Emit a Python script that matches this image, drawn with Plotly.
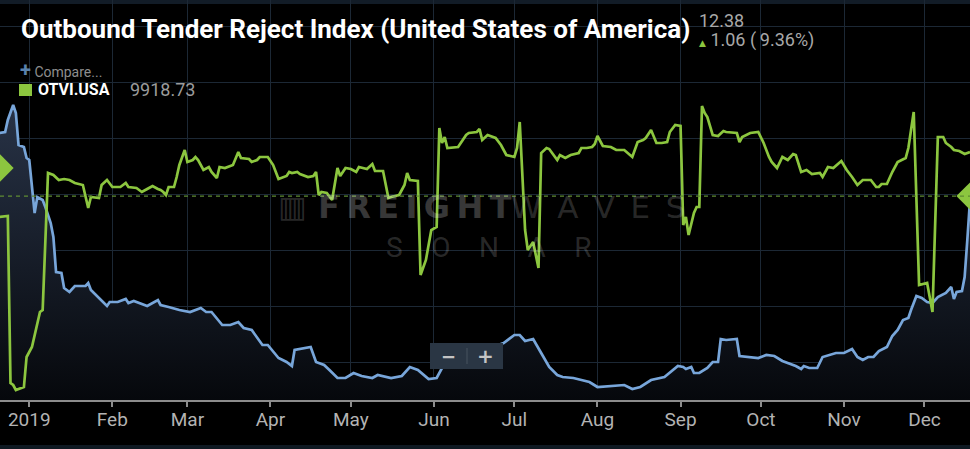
import pandas as pd
import plotly.graph_objects as go

# ---------------- data ----------------
BASE_DATE = "2019-01-01"

# Outbound Tender Reject Index (blue) : day offset from 2019-01-01, value (%)
otri_day = [-11, -9, -8, -6, -5, -4, -2, -1, 0, 1, 2, 3, 5, 6, 8, 9, 10, 12, 13, 15, 17, 21, 22, 23,
            26, 29, 30, 33, 36, 37, 39, 41, 44, 48, 49, 52, 56, 60, 64, 66, 68, 72, 75, 78, 80, 83,
            87, 89, 93, 96, 98, 99, 105, 107, 110, 112, 115, 118, 121, 124, 128, 130, 133, 135, 139,
            142, 145, 149, 152, 154, 161, 168, 174, 177, 181, 183, 185, 188, 191, 194, 197, 199, 203,
            206, 209, 212, 216, 219, 222, 225, 228, 232, 237, 242, 244, 245, 247, 248, 250, 253, 255,
            257, 258, 260, 264, 265, 269, 272, 275, 278, 281, 286, 288, 289, 291, 294, 296, 299, 301,
            304, 307, 309, 311, 313, 315, 317, 320, 322, 324, 326, 328, 329, 331, 333, 335, 337, 339,
            342, 344, 345, 346, 348, 349, 350, 351]
otri_val = [15.06, 15.10, 15.58, 16.18, 15.86, 14.58, 14.50, 14.06, 13.98, 12.78, 11.86, 12.50, 12.38,
            12.10, 11.46, 10.90, 9.50, 9.46, 8.86, 8.70, 8.94, 8.94, 9.06, 8.78, 8.46, 8.14, 8.30, 8.30,
            8.42, 8.26, 8.34, 8.26, 8.14, 8.38, 8.18, 8.10, 7.98, 7.90, 8.06, 7.90, 7.90, 7.38, 7.38,
            7.50, 7.26, 7.18, 6.58, 6.58, 6.06, 5.90, 5.74, 6.38, 6.50, 5.90, 5.78, 5.58, 5.26, 5.26,
            5.46, 5.34, 5.26, 5.38, 5.30, 5.26, 5.34, 5.70, 5.58, 5.22, 5.26, 5.66, 5.98, 6.30, 6.54,
            6.66, 6.98, 6.98, 6.74, 6.82, 6.26, 5.70, 5.38, 5.30, 5.26, 5.18, 5.10, 4.90, 4.94, 4.94,
            4.98, 4.82, 4.90, 5.18, 5.30, 5.74, 5.70, 5.62, 5.70, 5.46, 5.46, 5.66, 5.90, 5.90, 6.82,
            6.78, 6.82, 6.14, 6.10, 6.06, 6.18, 6.14, 5.94, 5.74, 5.62, 5.74, 5.66, 5.66, 6.10, 6.18,
            6.26, 6.26, 6.42, 6.10, 5.98, 6.10, 6.10, 6.34, 6.50, 6.94, 7.18, 7.58, 7.66, 7.98, 8.54,
            8.46, 8.30, 8.26, 8.50, 8.66, 8.90, 8.42, 8.70, 8.74, 9.30, 10.78, 12.38]

# Outbound Tender Volume Index (green) : day offset from 2019-01-01, value
otvi_day = [-11, -8, -7, -6, -5, -2, -1, 1, 4, 5, 7, 9, 11, 13, 15, 17, 20, 21, 22, 23, 26, 27, 29, 31,
            34, 36, 37, 40, 42, 44, 46, 48, 49, 50, 51, 52, 54, 55, 56, 58, 59, 61, 62, 63, 65, 67, 68,
            70, 71, 73, 76, 78, 79, 82, 83, 85, 86, 89, 91, 93, 96, 97, 98, 100, 101, 104, 106, 107,
            108, 109, 111, 113, 115, 116, 118, 120, 122, 123, 126, 128, 129, 132, 134, 135, 138, 140,
            141, 142, 145, 146, 148, 150, 152, 153, 154, 155, 156, 160, 163, 164, 167, 168, 169, 171,
            174, 176, 178, 181, 182, 183, 185, 186, 188, 190, 191, 193, 194, 197, 198, 200, 202, 205,
            206, 208, 210, 211, 212, 214, 217, 219, 222, 225, 227, 229, 230, 232, 234, 236, 238, 239,
            241, 243, 244, 245, 246, 248, 249, 250, 251, 252, 253, 255, 257, 259, 260, 264, 265, 266,
            269, 272, 274, 276, 277, 279, 281, 283, 285, 286, 288, 290, 292, 295, 296, 298, 300, 303,
            305, 307, 309, 311, 314, 316, 317, 318, 320, 322, 324, 327, 328, 330, 332, 335, 337, 339,
            341, 342, 344, 345, 347, 349, 351]
otvi_val = [9709, 9719, 8049, 8029, 7979, 8009, 8309, 8409, 8759, 8779, 10149, 10129, 10079, 10089,
            10079, 10049, 10029, 9899, 9799, 9909, 9899, 10029, 10079, 10009, 10009, 10049, 10009, 9999,
            9959, 9989, 10019, 9989, 9979, 9959, 9929, 10009, 10009, 10109, 10229, 10379, 10259, 10279,
            10309, 10279, 10179, 10209, 10159, 10099, 10209, 10199, 10229, 10359, 10299, 10289, 10259,
            10279, 10309, 10309, 10229, 10089, 10119, 10159, 10149, 10159, 10139, 10109, 10119, 10159,
            9929, 9959, 9949, 9879, 10199, 10119, 10199, 10189, 10159, 10209, 10189, 10239, 10169,
            10169, 9899, 9909, 9929, 10029, 10149, 10079, 10069, 9129, 9279, 9579, 9609, 10599, 10449,
            10509, 10399, 10409, 10529, 10549, 10559, 10589, 10479, 10529, 10499, 10429, 10329, 10309,
            10399, 10659, 9579, 9379, 9459, 9199, 10349, 10399, 10389, 10279, 10329, 10299, 10329,
            10349, 10399, 10399, 10409, 10439, 10519, 10419, 10409, 10379, 10379, 10309, 10459, 10479,
            10499, 10579, 10449, 10449, 10459, 10559, 10629, 10619, 9629, 9709, 9529, 9749, 9809, 9809,
            10819, 10749, 10709, 10529, 10519, 10569, 10559, 10549, 10459, 10509, 10549, 10559, 10449,
            10309, 10259, 10199, 10309, 10279, 10339, 10329, 10159, 10179, 10139, 10149, 10109, 10209,
            10199, 10269, 10179, 10109, 10029, 10079, 10079, 10009, 10009, 10039, 10039, 10159, 10259,
            10299, 10399, 10759, 9029, 9049, 8759, 10509, 10509, 10449, 10409, 10379, 10369, 10339,
            10359]

OTVI_CURRENT = 9918.73          # legend value, also the dashed reference level
OTVI_LEFT_MARK = 10199          # green diamond on the left edge
OTRI_LAST = 12.38
OTRI_CHANGE = 1.06
OTRI_CHANGE_PCT = 9.36

month_ticks = ["2019-01-01", "2019-02-01", "2019-03-01", "2019-04-01", "2019-05-01", "2019-06-01",
               "2019-07-01", "2019-08-01", "2019-09-01", "2019-10-01", "2019-11-01", "2019-12-01"]
month_labels = ["2019", "Feb", "Mar", "Apr", "May", "Jun", "Jul", "Aug", "Sep", "Oct", "Nov", "Dec"]

X_RANGE = ["2018-12-21 02:00", "2019-12-18 00:00"]
OTRI_RANGE = [4.38, 20.38]
OTVI_RANGE = [7879, 11879]

# ---------------- styling ----------------
BLUE = "#78a6da"
GREEN = "#8cc63f"
GRID = "#1c2835"
BG = "#000000"

base = pd.Timestamp(BASE_DATE)
otri_x = base + pd.to_timedelta(otri_day, unit="D")
otvi_x = base + pd.to_timedelta(otvi_day, unit="D")

fig = go.Figure()

fig.add_trace(go.Scatter(
    x=otri_x, y=otri_val, mode="lines", name="OTRI.USA",
    line=dict(color=BLUE, width=2.7),
    fill="tozeroy",
    fillgradient=dict(type="vertical", start=OTRI_RANGE[0], stop=16.2,
                      colorscale=[[0, "#06080c"], [1, "#283347"]]),
    yaxis="y", hoverinfo="skip",
))

fig.add_trace(go.Scatter(
    x=otvi_x, y=otvi_val, mode="lines", name="OTVI.USA",
    line=dict(color=GREEN, width=2.7), yaxis="y2", hoverinfo="skip",
))

fig.add_trace(go.Scatter(
    x=[X_RANGE[0], X_RANGE[1]], y=[OTVI_LEFT_MARK, OTVI_CURRENT], mode="markers",
    marker=dict(symbol="diamond", size=21, color=GREEN, line=dict(width=0)),
    yaxis="y2", cliponaxis=False, hoverinfo="skip",
))

PLOT_H = 400.0  # plot-area height in px (for paper coordinates)
W = 970.0


def py(p):
    return 1 - p / PLOT_H


def px(p):
    return p / W


annotations = [
    dict(text="<b>Outbound Tender Reject Index (United States of America)</b>",
         x=px(19), y=py(29), xanchor="left", yanchor="middle",
         font=dict(family="Roboto", size=26, color="#ffffff")),
    dict(text=f"{OTRI_LAST:.2f}", x=px(697), y=py(21), xanchor="left", yanchor="middle",
         font=dict(family="Roboto", size=18, color="#a8a8a8")),
    dict(text=f"<span style='color:{GREEN};font-family:DejaVu Sans;font-size:9px'>▲</span> {OTRI_CHANGE:.2f} (\u2009{OTRI_CHANGE_PCT:.2f}%)",
         x=px(697), y=py(40), xanchor="left", yanchor="middle",
         font=dict(family="Roboto", size=18, color="#a8a8a8")),
    dict(text="<span style='color:#5a82ad;font-size:20px'><b>+</b></span> Compare...", x=px(18), y=py(70),
         xanchor="left", yanchor="middle", font=dict(family="Roboto", size=14, color="#8e8e8e")),
    dict(text="<b>OTVI.USA</b>", x=px(36), y=py(90), xanchor="left", yanchor="middle",
         font=dict(family="Roboto", size=16, color="#ffffff")),
    dict(text=f"{OTVI_CURRENT:.2f}", x=px(128), y=py(90), xanchor="left", yanchor="middle",
         font=dict(family="Roboto", size=18, color="#9c9c9c")),
    # watermark
    dict(text="▥", x=px(292), y=py(207), xanchor="center", yanchor="middle",
         font=dict(family="DejaVu Sans", size=30, color="rgba(255,255,255,0.18)")),
    dict(text="<b>F\u2009R\u2009E\u2009I\u2009G\u2009H\u2009T</b>",
         x=px(316), y=py(207), xanchor="left", yanchor="middle",
         font=dict(family="DejaVu Sans", size=32, color="rgba(255,255,255,0.22)")),
    dict(text="W\u2002A\u2002V\u2002E\u2002S",
         x=px(687), y=py(207), xanchor="right", yanchor="middle",
         font=dict(family="DejaVu Sans", size=31, color="rgba(255,255,255,0.17)")),
    dict(text="S\u2003O\u2003N\u2003A\u2003R", x=px(489), y=py(247), xanchor="center", yanchor="middle",
         font=dict(family="Roboto", size=28, color="rgba(255,255,255,0.17)")),
    # zoom buttons
    dict(text="<b>−</b>", x=px(448), y=py(356), xanchor="center", yanchor="middle",
         font=dict(family="DejaVu Sans", size=18, color="#c4c4c4")),
    dict(text="<b>+</b>", x=px(485), y=py(356), xanchor="center", yanchor="middle",
         font=dict(family="DejaVu Sans", size=20, color="#c4c4c4")),
]
for a in annotations:
    a.update(xref="paper", yref="paper", showarrow=False)

shapes = [
    dict(type="rect", xref="paper", yref="paper", x0=0, x1=1, y0=py(4), y1=py(0),
         fillcolor="#121c27", line=dict(width=0), layer="below"),
    dict(type="rect", xref="paper", yref="paper", x0=0, x1=1, y0=py(449), y1=py(445),
         fillcolor="#0f1922", line=dict(width=0)),
    dict(type="line", xref="paper", yref="y2", x0=0, x1=1, y0=OTVI_CURRENT, y1=OTVI_CURRENT,
         line=dict(color="#5f8c33", width=1.2, dash="4px,4px"), layer="above"),
    dict(type="rect", xref="paper", yref="paper", x0=px(19), x1=px(32), y0=py(96), y1=py(84),
         fillcolor=GREEN, line=dict(width=0)),
    dict(type="rect", xref="paper", yref="paper", x0=px(430), x1=px(503), y0=py(369), y1=py(343),
         fillcolor="#2a3644", line=dict(width=0), layer="above"),
    dict(type="line", xref="paper", yref="paper", x0=px(467), x1=px(467), y0=py(364), y1=py(348),
         line=dict(color="#46525f", width=1), layer="above"),
]

fig.update_layout(
    width=970, height=449,
    margin=dict(l=0, r=0, t=0, b=49),
    paper_bgcolor=BG, plot_bgcolor=BG,
    showlegend=False,
    annotations=annotations,
    shapes=shapes,
    xaxis=dict(
        type="date", range=X_RANGE,
        tickvals=month_ticks, ticktext=month_labels,
        showgrid=True, gridcolor=GRID, gridwidth=1,
        showline=True, linecolor="#8c8c8c", linewidth=1.5,
        ticks="outside", ticklen=5, tickcolor="#8c8c8c", tickwidth=1.5,
        tickfont=dict(family="Roboto", size=19, color="#b3b3b3"),
        ticklabelstandoff=-4,
        zeroline=False, fixedrange=True,
    ),
    yaxis=dict(
        range=OTRI_RANGE, showticklabels=False, ticks="",
        showgrid=True, gridcolor=GRID, gridwidth=1,
        tick0=19.312, dtick=2.24, zeroline=False, fixedrange=True,
    ),
    yaxis2=dict(
        range=OTVI_RANGE, overlaying="y", side="right", showticklabels=False,
        showgrid=False, zeroline=False, ticks="", fixedrange=True,
    ),
)

fig.write_html("out.html", config={"displayModeBar": False},
               post_script="document.body.style.margin='0';document.body.style.background='#000';")
